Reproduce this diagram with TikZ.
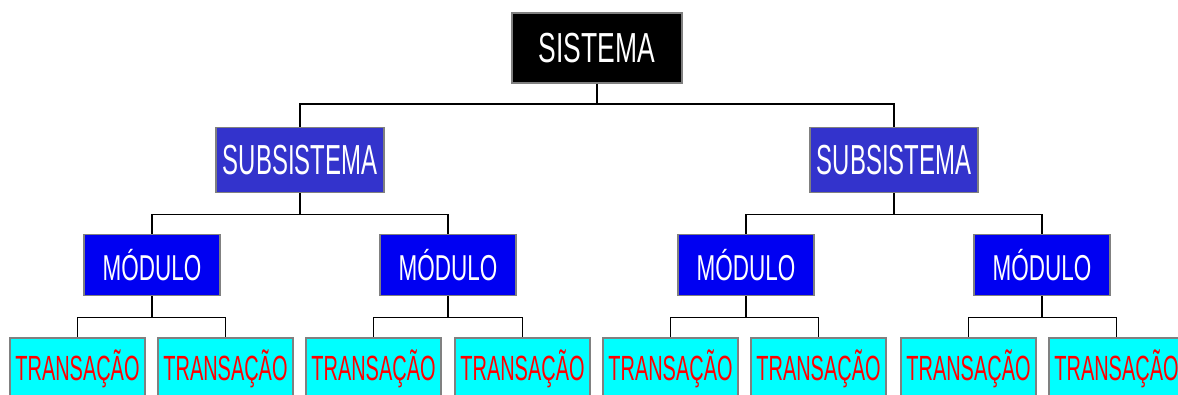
\documentclass[tikz,border=0pt]{standalone}
\usepackage{fontspec}
\newfontfamily\narA[FakeStretch=0.63]{Liberation Sans}
\newfontfamily\narB[FakeStretch=0.57]{Liberation Sans}
\newfontfamily\narC[FakeStretch=0.625]{Liberation Sans}
\newfontfamily\narD[FakeStretch=0.57]{Liberation Sans}
\definecolor{subblue}{RGB}{51,51,204}
\definecolor{modblue}{RGB}{0,0,242}
\definecolor{trcyan}{RGB}{0,255,255}
\definecolor{trred}{RGB}{255,0,0}
\definecolor{bordgrey}{RGB}{128,128,128}
\tikzset{
  box/.style={draw=bordgrey, line width=1.5pt, inner sep=0pt},
  sisbox/.style={box, fill=black, text=white, minimum width=170pt, minimum height=70pt, font=\narA\fontsize{42}{42}\selectfont},
  subbox/.style={box, fill=subblue, text=white, minimum width=168pt, minimum height=65pt, font=\narB\fontsize{42}{42}\selectfont},
  modbox/.style={box, fill=modblue, text=white, minimum width=136pt, minimum height=61pt, font=\narC\fontsize{36}{36}\selectfont},
  trbox/.style={box, fill=trcyan, text=trred, minimum width=135pt, minimum height=61pt, font=\narD\fontsize{35}{35}\selectfont},
  conn/.style={draw=black, line width=1.5pt}
}
\begin{document}
\begin{tikzpicture}[x=1pt,y=1pt]
\useasboundingbox (0,0) rectangle (1178,-394);
\clip (0,0) rectangle (1178,-394);
\node[sisbox] (sis) at (597,-48) {SISTEMA};
\node[subbox] (sub1) at (300,-160) {SUBSISTEMA};
\node[subbox] (sub2) at (894,-160) {SUBSISTEMA};
\node[modbox] (m1) at (152,-265) {MÓDULO};
\node[modbox] (m2) at (448,-265) {MÓDULO};
\node[modbox] (m3) at (746,-265) {MÓDULO};
\node[modbox] (m4) at (1042,-265) {MÓDULO};
\foreach \i/\x in {1/77.5,2/225.5,3/373.5,4/522.5,5/670.5,6/818.5,7/968.5,8/1116.5}{
  \node[trbox] (t\i) at (\x,-368.5) {TRANSAÇÃO};
}
\draw[conn] (sis.south) -- ++(0,-20) -| (sub1.north);
\draw[conn] (sis.south) -- ++(0,-20) -| (sub2.north);
\draw[conn] (sub1.south) -- ++(0,-21) -| (m1.north);
\draw[conn] (sub1.south) -- ++(0,-21) -| (m2.north);
\draw[conn] (sub2.south) -- ++(0,-21) -| (m3.north);
\draw[conn] (sub2.south) -- ++(0,-21) -| (m4.north);
\draw[conn] (m1.south) -- ++(0,-21) -| (t1.north);
\draw[conn] (m1.south) -- ++(0,-21) -| (t2.north);
\draw[conn] (m2.south) -- ++(0,-21) -| (t3.north);
\draw[conn] (m2.south) -- ++(0,-21) -| (t4.north);
\draw[conn] (m3.south) -- ++(0,-21) -| (t5.north);
\draw[conn] (m3.south) -- ++(0,-21) -| (t6.north);
\draw[conn] (m4.south) -- ++(0,-21) -| (t7.north);
\draw[conn] (m4.south) -- ++(0,-21) -| (t8.north);
\end{tikzpicture}
\end{document}
